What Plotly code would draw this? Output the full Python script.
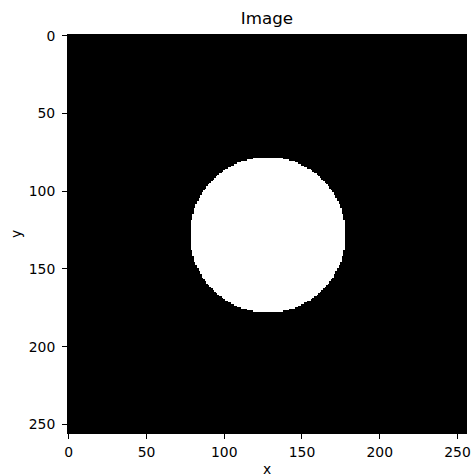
import numpy as np
import plotly.graph_objects as go

# ---- data ----
IMG_SIZE = 256              # image is 256 x 256 pixels
CIRCLE_CENTER = [128, 128]  # (x, y) of the white disc
CIRCLE_RADIUS = 50          # radius of the white disc in pixels
X_TICKS = [0, 50, 100, 150, 200, 250]
Y_TICKS = [0, 50, 100, 150, 200, 250]
TITLE = "Image"
X_LABEL = "x"
Y_LABEL = "y"

# binary image: 1 inside the disc, 0 outside
cols = np.arange(IMG_SIZE)
rows = np.arange(IMG_SIZE)
xx, yy = np.meshgrid(cols, rows)
mask = ((xx - CIRCLE_CENTER[0]) ** 2 + (yy - CIRCLE_CENTER[1]) ** 2 < CIRCLE_RADIUS ** 2).astype(int)

FONT = "DejaVu Sans"
W, H = 474, 476
ML, MR, MT, MB = 68, 8, 35, 43
PLOT_H = H - MT - MB
PLOT_W = W - ML - MR

fig = go.Figure(
    go.Heatmap(
        z=mask,
        x=cols,
        y=rows,
        colorscale=[[0, "black"], [1, "white"]],
        zmin=0,
        zmax=1,
        showscale=False,
        zsmooth=False,
        hoverinfo="skip",
    )
)

axis_common = dict(
    showgrid=False,
    zeroline=False,
    showline=True,
    linecolor="black",
    linewidth=1,
    mirror=True,
    ticks="outside",
    ticklen=5,
    tickwidth=1,
    tickcolor="black",
    tickfont=dict(family=FONT, size=13.9, color="black"),
    automargin=False,
)

fig.update_layout(
    width=W,
    height=H,
    margin=dict(l=ML, r=MR, t=MT, b=MB),
    paper_bgcolor="white",
    plot_bgcolor="black",
    title=dict(
        text=TITLE,
        font=dict(family=FONT, size=16.7, color="black"),
        x=0.5,
        xref="paper",
        xanchor="center",
        y=1 - 18 / H,
        yref="container",
        yanchor="middle",
    ),
    xaxis=dict(
        range=[-0.5, IMG_SIZE - 0.5],
        tickvals=X_TICKS,
        ticktext=[str(v) for v in X_TICKS],
        ticklabelstandoff=1,
        **axis_common,
    ),
    yaxis=dict(
        range=[IMG_SIZE - 0.5, -0.5],
        tickvals=Y_TICKS,
        ticktext=[str(v) for v in Y_TICKS],
        ticklabelstandoff=4,
        **axis_common,
    ),
    annotations=[
        dict(
            text=X_LABEL,
            xref="paper",
            yref="paper",
            x=0.5,
            y=-(469 - (H - MB)) / PLOT_H,
            xanchor="center",
            yanchor="middle",
            showarrow=False,
            font=dict(family=FONT, size=13.9, color="black"),
        ),
        dict(
            text=Y_LABEL,
            xref="paper",
            yref="paper",
            x=-(ML - 16) / PLOT_W,
            y=0.5,
            xanchor="center",
            yanchor="middle",
            textangle=-90,
            showarrow=False,
            font=dict(family=FONT, size=13.9, color="black"),
        ),
    ],
)

fig.write_html(
    "out.html",
    config={"displayModeBar": False},
    post_script="document.body.style.margin='0px';document.body.style.overflow='hidden';",
)
